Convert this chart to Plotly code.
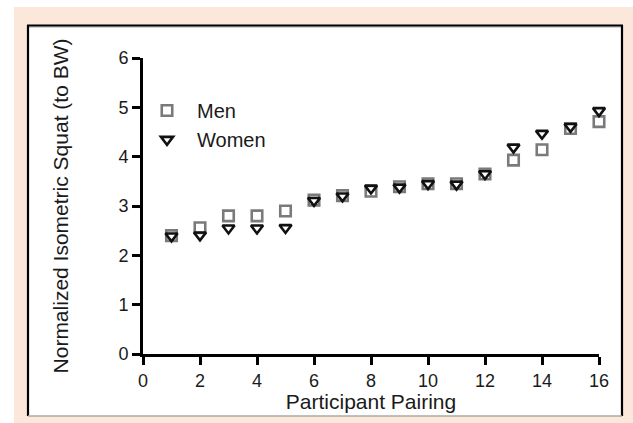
import plotly.graph_objects as go

pairing = list(range(1, 17))
men = [2.40, 2.56, 2.80, 2.80, 2.90, 3.12, 3.21, 3.30, 3.39, 3.45, 3.45, 3.65, 3.93, 4.14, 4.57, 4.71]
women = [2.39, 2.41, 2.55, 2.55, 2.56, 3.11, 3.20, 3.36, 3.38, 3.45, 3.44, 3.65, 4.19, 4.47, 4.61, 4.93]
x_ticks = [0, 2, 4, 6, 8, 10, 12, 14, 16]
y_ticks = [0, 1, 2, 3, 4, 5, 6]

W, H = 633, 423
L, R, T, B = 143, 34, 58, 69
pw, ph = W - L - R, H - T - B

def px(x):
    return (x - L) / pw

def py(y):
    return (H - B - y) / ph

FONT = "Liberation Sans, Arial, sans-serif"
TXT = "#1a1a1a"

fig = go.Figure()
fig.add_trace(go.Scatter(
    x=pairing, y=men, mode="markers", name="Men", cliponaxis=False,
    marker=dict(symbol="square-open", size=10.5, color="#7a7a7a",
                line=dict(width=2.6, color="#7a7a7a")),
))
fig.add_trace(go.Scatter(
    x=pairing, y=women, mode="markers", name="Women", cliponaxis=False,
    marker=dict(symbol="triangle-down-open", size=10.5, color="#111111",
                line=dict(width=2.6, color="#111111")),
))

shapes = [
    dict(type="rect", xref="paper", yref="paper", x0=px(14), x1=px(633), y0=py(423), y1=py(7),
         fillcolor="#FCE8DA", line=dict(width=0), layer="below"),
    dict(type="rect", xref="paper", yref="paper", x0=px(28), x1=px(622), y0=py(416), y1=py(25),
         fillcolor="white", line=dict(width=0), layer="below"),
    dict(type="line", xref="paper", yref="paper", x0=px(28), x1=px(622), y0=py(27), y1=py(27),
         line=dict(width=1, color="#aaaaaa"), layer="below"),
    dict(type="line", xref="paper", yref="paper", x0=px(27), x1=px(623), y0=py(25.5), y1=py(25.5),
         line=dict(width=2.2, color="black"), layer="below"),
    dict(type="line", xref="paper", yref="paper", x0=px(28), x1=px(28), y0=py(416), y1=py(25),
         line=dict(width=2.2, color="black"), layer="below"),
    dict(type="line", xref="paper", yref="paper", x0=px(622), x1=px(622), y0=py(416), y1=py(25),
         line=dict(width=2.2, color="black"), layer="below"),
    dict(type="line", xref="paper", yref="paper", x0=px(28), x1=px(622), y0=py(416), y1=py(416),
         line=dict(width=1.5, color="#aaaaaa"), layer="below"),
]

fig.update_layout(
    width=W, height=H, autosize=False,
    margin=dict(l=L, r=R, t=T, b=B, pad=0),
    paper_bgcolor="white", plot_bgcolor="rgba(0,0,0,0)",
    font=dict(family=FONT, color=TXT, size=18),
    shapes=shapes,
    showlegend=True,
    legend=dict(x=px(137), y=py(91), xanchor="left", yanchor="top",
                bgcolor="rgba(0,0,0,0)", font=dict(size=20, family=FONT, color=TXT),
                itemwidth=50, tracegroupgap=0),
    xaxis=dict(range=[0, 16], tickvals=x_ticks, showgrid=False, zeroline=False,
               showline=True, linecolor="black", linewidth=2.8,
               ticks="outside", ticklen=8, tickwidth=2.8, tickcolor="black",
               tickfont=dict(size=18, family=FONT, color=TXT),
               title=dict(text="Participant Pairing", font=dict(size=21, family=FONT, color=TXT), standoff=5)),
    yaxis=dict(range=[0, 6], tickvals=y_ticks, showgrid=False, zeroline=False,
               showline=True, linecolor="black", linewidth=2.8,
               ticks="outside", ticklen=8, tickwidth=2.8, tickcolor="black",
               tickfont=dict(size=18, family=FONT, color=TXT),
               title=dict(text="Normalized Isometric Squat (to BW)", font=dict(size=21, family=FONT, color=TXT), standoff=45)),
)

fig.write_html("out.html")
